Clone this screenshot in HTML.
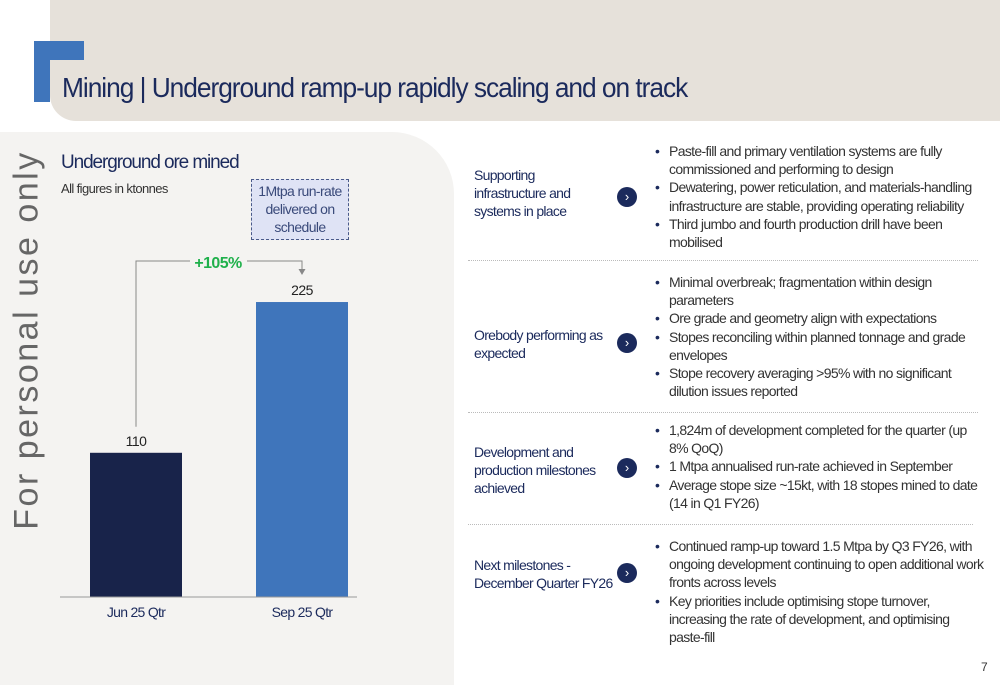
<!DOCTYPE html>
<html><head><meta charset="utf-8"><style>
body{margin:0;width:1000px;height:685px;overflow:hidden;background:#fff;font-family:"Liberation Sans",sans-serif;position:relative}
.a{position:absolute}
.n{letter-spacing:-0.6px}
.lbl{position:absolute;left:474px;color:#1b2a5c;font-size:14px;line-height:18px;letter-spacing:-0.7px}
.ic{position:absolute;left:617px;width:20px;height:20px;border-radius:50%;background:#1b2a5c;color:#fff;font-size:13px;line-height:19px;text-align:center}
.bl{position:absolute;left:655px;width:330px;color:#333;font-size:14px;line-height:18.2px;letter-spacing:-0.65px;margin:0;padding:0;list-style:none}
.bl li{padding-left:14px;position:relative}
.bl li:before{content:"•";position:absolute;left:0;color:#1b2a5c}
.sep{position:absolute;left:468px;width:510px;border-top:1px dotted #bbb}
</style></head><body>
<div class="a" style="left:50px;top:0;width:950px;height:121px;background:#e6e1da;border-bottom-left-radius:26px"></div>
<div class="a" style="left:34px;top:41px;width:50px;height:19px;background:#3f75bb"></div>
<div class="a" style="left:34px;top:41px;width:16px;height:61px;background:#3f75bb"></div>
<div class="a n" style="left:62px;top:72px;font-size:28px;color:#1b2a5c;letter-spacing:-1.1px;transform:scaleX(0.94);transform-origin:left;white-space:nowrap">Mining | Underground ramp-up rapidly scaling and on track</div>
<div class="a" style="left:0;top:132px;width:454px;height:553px;background:#f4f3f1;border-top-right-radius:62px"></div>
<div class="a" style="left:27px;top:340px;transform:translate(-50%,-50%) rotate(-90deg);font-size:34px;color:#666;white-space:nowrap;letter-spacing:2.5px">For personal use only</div>
<div class="a n" style="left:61px;top:152px;font-size:19px;color:#1b2a5c;letter-spacing:-1.1px">Underground ore mined</div>
<div class="a n" style="left:61px;top:181px;font-size:13px;color:#333">All figures in ktonnes</div>
<div class="a n" style="left:251px;top:179px;width:98px;background:#dfe3f5;border:1px dashed #4a5a8a;color:#3a4a7a;font-size:14px;line-height:18px;text-align:center;padding-top:2px;box-sizing:border-box;height:61px">1Mtpa run-rate delivered on schedule</div>
<svg class="a" style="left:0;top:0" width="460" height="685"></svg>
<div class="lbl" style="top:166px">Supporting<br>infrastructure and<br>systems in place</div>
<div class="ic" style="top:187px">&#8250;</div>
<ul class="bl" style="top:142px"><li>Paste-fill and primary ventilation systems are fully commissioned and performing to design</li><li>Dewatering, power reticulation, and materials-handling infrastructure are stable, providing operating reliability</li><li>Third jumbo and fourth production drill have been mobilised</li></ul>
<div class="sep" style="top:260px"></div>
<div class="lbl" style="top:326px">Orebody performing as<br>expected</div>
<div class="ic" style="top:333px">&#8250;</div>
<ul class="bl" style="top:273px"><li>Minimal overbreak; fragmentation within design parameters</li><li>Ore grade and geometry align with expectations</li><li>Stopes reconciling within planned tonnage and grade envelopes</li><li>Stope recovery averaging &gt;95% with no significant dilution issues reported</li></ul>
<div class="sep" style="top:412px"></div>
<div class="lbl" style="top:443px">Development and<br>production milestones<br>achieved</div>
<div class="ic" style="top:458px">&#8250;</div>
<ul class="bl" style="top:421px"><li>1,824m of development completed for the quarter (up 8% QoQ)</li><li>1 Mtpa annualised run-rate achieved in September</li><li>Average stope size ~15kt, with 18 stopes mined to date (14 in Q1 FY26)</li></ul>
<div class="sep" style="top:524px;width:505px"></div>
<div class="lbl" style="top:556px">Next milestones -<br>December Quarter FY26</div>
<div class="ic" style="top:563px">&#8250;</div>
<ul class="bl" style="top:537px"><li>Continued ramp-up toward 1.5 Mtpa by Q3 FY26, with ongoing development continuing to open additional work fronts across levels</li><li>Key priorities include optimising stope turnover, increasing the rate of development, and optimising paste-fill</li></ul>
<div class="a" style="left:981px;top:660px;font-size:12px;color:#333">7</div>
<script>
const categories=["Jun 25 Qtr","Sep 25 Qtr"];
const values=[110,225];
const valueLabels=["110","225"];
const growthLabel="+105%";
const colors=["#18234a","#3f75bb"];
const svg=document.querySelector('svg');
const NS="http://www.w3.org/2000/svg";
const base=597,k=1.311;
const yScale=v=>base-v*k;
const xs=[90,256],bw=92;
function mk(t,a){const e=document.createElementNS(NS,t);for(const p in a)e.setAttribute(p,a[p]);svg.appendChild(e);return e;}
values.forEach((v,i)=>{
 const r=mk('rect',{x:xs[i],y:yScale(v),width:bw,height:v*k,fill:colors[i]});
 
 
 const t=mk('text',{x:xs[i]+bw/2,y:yScale(v)-7,'text-anchor':'middle','font-size':14,fill:'#222','letter-spacing':'-0.5'});t.textContent=valueLabels[i];
 
 
 const c=mk('text',{x:xs[i]+bw/2,y:base+20,'text-anchor':'middle','font-size':14,fill:'#1b2a5c','letter-spacing':'-0.7'});c.textContent=categories[i];
 
 
});
mk('line',{x1:60,x2:357,y1:base,y2:base,stroke:'#999'});
const bx1=xs[0]+bw/2,bx2=xs[1]+bw/2,bTop=yScale(Math.max(...values))-41;
mk('polyline',{points:`${bx1},${yScale(values[0])-26} ${bx1},${bTop} ${bx1+54},${bTop}`,fill:'none',stroke:'#888'});
mk('polyline',{points:`${bx1+111},${bTop} ${bx2},${bTop} ${bx2},${bTop+9}`,fill:'none',stroke:'#888'});
mk('path',{d:`M${bx2-3.5},${bTop+8} L${bx2+3.5},${bTop+8} L${bx2},${bTop+14}Z`,fill:'#888'});
const g=mk('text',{x:bx1+82,y:bTop+7,'text-anchor':'middle','font-size':16,'font-weight':'bold',fill:'#1fb04b','letter-spacing':'-0.6'});g.textContent=growthLabel;


</script>
</body></html>
